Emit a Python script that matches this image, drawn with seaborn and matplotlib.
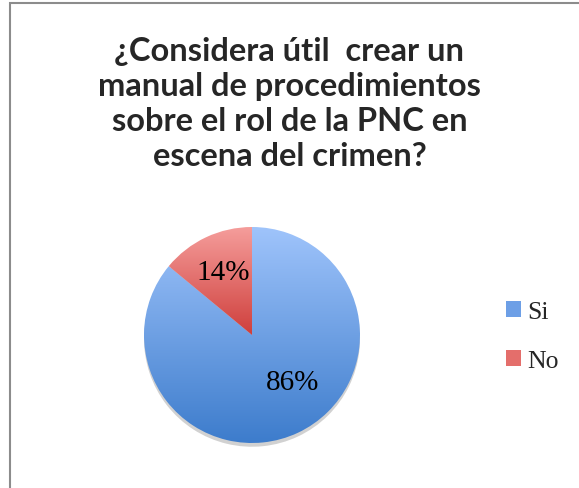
import numpy as np
import matplotlib
matplotlib.use("Agg")
import matplotlib.pyplot as plt
import seaborn as sns
from matplotlib.colors import LinearSegmentedColormap
from matplotlib.patches import Rectangle, Patch

title = "¿Considera útil  crear un\nmanual de procedimientos\nsobre el rol de la PNC en\nescena del crimen?"
categories = ["Si", "No"]
values = [86, 14]
top_colors = ["#9fc4fb", "#f59d9b"]
bottom_colors = ["#3d7ccc", "#cf3f3c"]
legend_colors = ["#6d9fe6", "#e46e6b"]

sns.set_style("white")

fig = plt.figure(figsize=(5.79, 4.88), dpi=100)
ax = fig.add_axes([144 / 579, 45 / 488, 216 / 579, 216 / 488])

wedges, texts, autotexts = ax.pie(
    values, startangle=90, counterclock=False, radius=1,
    autopct="%1.0f%%", pctdistance=0.63,
    shadow=dict(ox=0, oy=-0.025, facecolor="#9a9a9a", edgecolor="none", alpha=0.45),
    textprops=dict(family="Liberation Serif", fontsize=21, color="black"),
)

grad = np.linspace(1, 0, 256).reshape(-1, 1)
for w, c0, c1 in zip(wedges, top_colors, bottom_colors):
    cmap = LinearSegmentedColormap.from_list("g", [c1, c0])
    ext = w.get_path().get_extents()
    w.set_facecolor("none")
    w.set_edgecolor("none")
    im = ax.imshow(grad, cmap=cmap, aspect="auto",
                   extent=(ext.x0, ext.x1, ext.y0, ext.y1), zorder=1)
    im.set_clip_path(w)
for t in autotexts:
    t.set_zorder(5)
# the big slice label sits lower-right, as in the original layout
autotexts[0].set_position((0.38, -0.44))

ax.set_xlim(-1, 1)
ax.set_ylim(-1, 1)
ax.axis("off")

fig.text(0.5, 1 - 104 / 488, title, ha="center", va="center",
         fontsize=23.5, fontweight="bold", family="Lato", linespacing=1.25)

handles = [Patch(facecolor=c, edgecolor="none") for c in legend_colors]
fig.legend(handles, categories, loc="center left",
           bbox_to_anchor=(506 / 579, 1 - 337 / 488), frameon=False,
           prop=dict(family="Liberation Serif", size=18.5),
           handlelength=0.58, handleheight=0.58, handletextpad=0.25,
           labelspacing=1.05, borderpad=0, borderaxespad=0)

fig.add_artist(Rectangle((10 / 579, -0.1), 1.2, 1.1 - 3 / 488,
                         transform=fig.transFigure, fill=False,
                         edgecolor="#8c8c8c", linewidth=1.5))

fig.savefig("out.png", dpi=100)
